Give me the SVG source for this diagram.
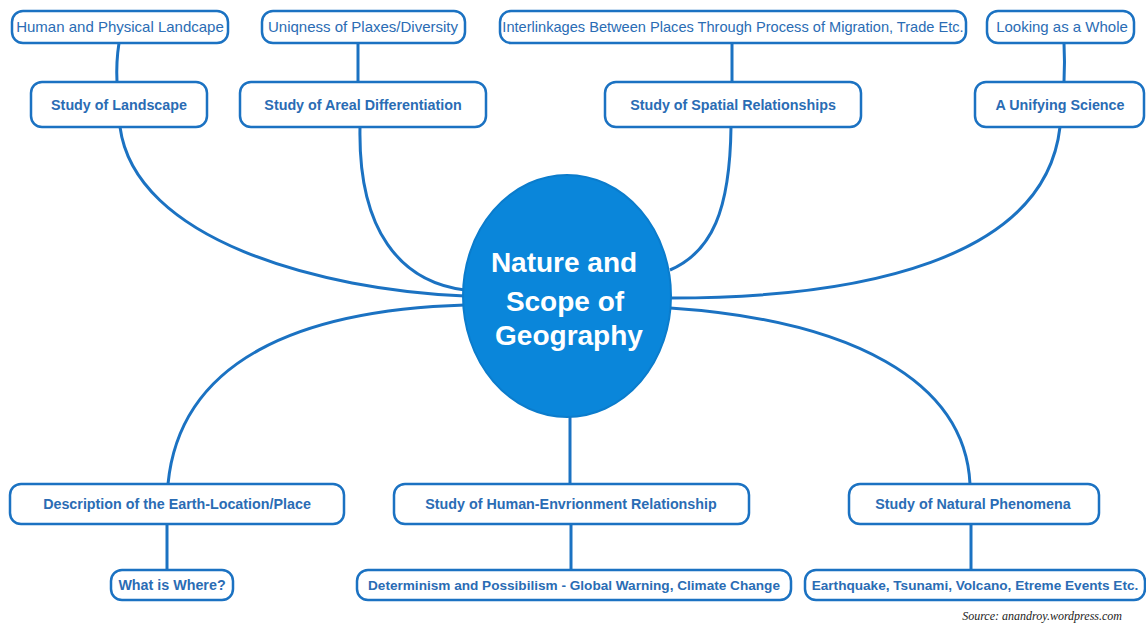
<svg xmlns="http://www.w3.org/2000/svg" width="1146" height="623" viewBox="0 0 1146 623">
<style>
.box{fill:#fff;stroke:#1b72c2;stroke-width:2.5}
.c{fill:none;stroke:#1b72c2;stroke-width:3}
.t1{font-family:"Liberation Sans",Arial,sans-serif;font-size:15px;fill:#2a6cb4;text-anchor:middle}
.t2{font-family:"Liberation Sans",Arial,sans-serif;font-size:14.3px;font-weight:bold;fill:#2a6cb4;text-anchor:middle}
.t3{font-family:"Liberation Sans",Arial,sans-serif;font-size:13.6px;font-weight:bold;fill:#2a6cb4;text-anchor:middle}
.ct{font-family:"Liberation Sans",Arial,sans-serif;font-size:28px;font-weight:bold;fill:#fff;text-anchor:middle}
</style>
<rect width="1146" height="623" fill="#fff"/>
<g id="connectors">
<path class="c" d="M119,43 Q116,62 117,82"/>
<path class="c" d="M358,43 L358,82"/>
<path class="c" d="M732,43 L732,82"/>
<path class="c" d="M1064,43 Q1065,62 1064,82"/>
<path class="c" d="M120,127 C135,240 320,290 465,296"/>
<path class="c" d="M360,127 C358,230 400,282 465,290"/>
<path class="c" d="M731,127 C730,210 712,252 670,270"/>
<path class="c" d="M1060,127 C1045,260 860,298 671,298"/>
<path class="c" d="M465,305 C300,310 180,360 168,484"/>
<path class="c" d="M570,416 L570,484"/>
<path class="c" d="M670,308 C850,320 965,380 970,484"/>
<path class="c" d="M167,524 L167,570"/>
<path class="c" d="M571,524 L571,570"/>
<path class="c" d="M971,524 L971,570"/>
</g>
<g id="center">
<ellipse cx="567" cy="296" rx="104" ry="121" fill="#0a86da" stroke="#0b7ccc" stroke-width="2"/>
<text class="ct" x="564" y="272">Nature and</text>
<text class="ct" x="565" y="311">Scope of</text>
<text class="ct" x="569" y="345">Geography</text>
</g>
<g id="n-human-physical"><rect class="box" x="12" y="11" width="216" height="32" rx="11"/><text class="t1" x="120" y="32">Human and Physical Landcape</text></g>
<g id="n-uniqness"><rect class="box" x="262" y="11" width="203" height="32" rx="11"/><text class="t1" x="363" y="32">Uniqness of Plaxes/Diversity</text></g>
<g id="n-interlinkages"><rect class="box" x="500" y="11" width="466" height="32" rx="11"/><text class="t1" x="733" y="32" style="font-size:14.6px">Interlinkages Between Places Through Process of Migration, Trade Etc.</text></g>
<g id="n-looking"><rect class="box" x="987" y="11" width="147" height="32" rx="11"/><text class="t1" x="1062" y="32">Looking as a Whole</text></g>
<g id="n-landscape"><rect class="box" x="31" y="82" width="176" height="45" rx="11"/><text class="t2" x="119" y="110">Study of Landscape</text></g>
<g id="n-areal"><rect class="box" x="240" y="82" width="246" height="45" rx="11"/><text class="t2" x="363" y="110">Study of Areal Differentiation</text></g>
<g id="n-spatial"><rect class="box" x="605" y="82" width="256" height="45" rx="11"/><text class="t2" x="733" y="110">Study of Spatial Relationships</text></g>
<g id="n-unifying"><rect class="box" x="975" y="82" width="169" height="45" rx="11"/><text class="t2" x="1060" y="110">A Unifying Science</text></g>
<g id="n-description"><rect class="box" x="10" y="484" width="334" height="40" rx="11"/><text class="t2" x="177" y="509">Description of the Earth-Location/Place</text></g>
<g id="n-human-env"><rect class="box" x="394" y="484" width="355" height="40" rx="11"/><text class="t2" x="571" y="509">Study of Human-Envrionment Relationship</text></g>
<g id="n-natural"><rect class="box" x="849" y="484" width="250" height="40" rx="11"/><text class="t2" x="973" y="509">Study of Natural Phenomena</text></g>
<g id="n-whatwhere"><rect class="box" x="111" y="570" width="122" height="30" rx="11"/><text class="t2" x="172" y="590">What is Where?</text></g>
<g id="n-determinism"><rect class="box" x="357" y="570" width="434" height="30" rx="11"/><text class="t3" x="574" y="590">Determinism and Possibilism - Global Warning, Climate Change</text></g>
<g id="n-earthquake"><rect class="box" x="805" y="570" width="340" height="30" rx="11"/><text class="t3" x="975" y="590">Earthquake, Tsunami, Volcano, Etreme Events Etc.</text></g>
<text x="1122" y="620" font-family="'Liberation Serif',serif" font-style="italic" font-size="12" fill="#222" text-anchor="end">Source: anandroy.wordpress.com</text>
</svg>
